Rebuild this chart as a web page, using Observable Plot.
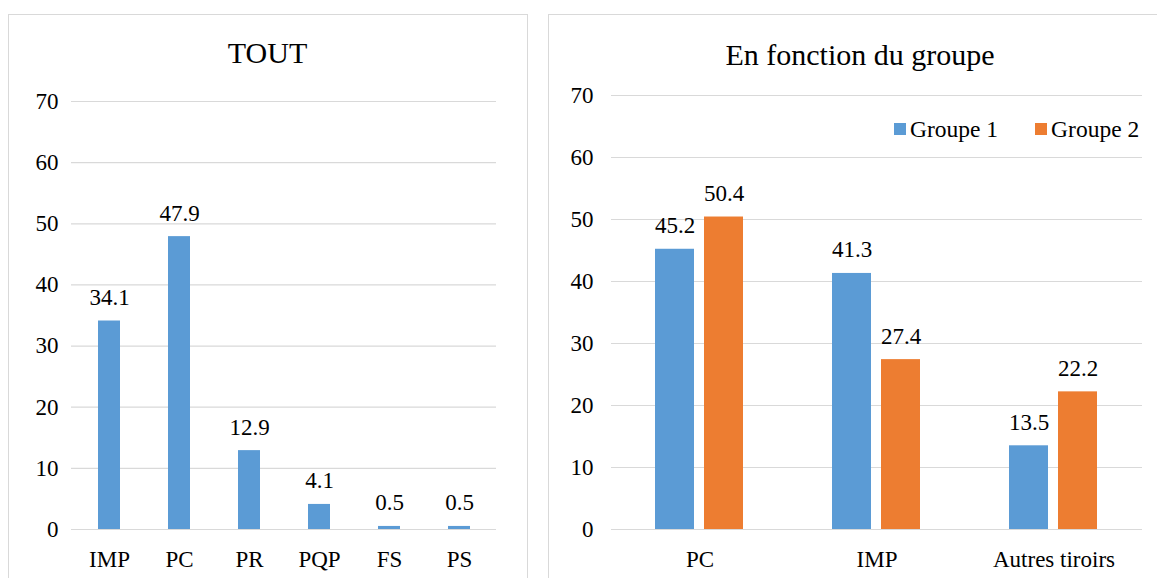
<!DOCTYPE html>
<html>
<head>
<meta charset="utf-8">
<script src="https://cdn.jsdelivr.net/npm/d3@7"></script>
<script src="https://cdn.jsdelivr.net/npm/@observablehq/plot@0.6"></script>
<style>
  html, body { margin: 0; padding: 0; background: #fff; }
  body { width: 1157px; height: 578px; position: relative; overflow: hidden; font-family: "Liberation Serif", "Times New Roman", serif; color: #000; }
  .panel { position: absolute; border: 1px solid #d9d9d9; box-sizing: border-box; }
  .title { position: absolute; font-size: 30px; line-height: 30px; white-space: nowrap; text-align: center; }
  .chart { position: absolute; }
  .chart svg, .chart svg g, .chart svg text { font-family: "Liberation Serif", "Times New Roman", serif !important; font-size: 23px !important; font-variant: normal !important; }
  .legend { position: absolute; font-size: 23.5px; line-height: 23px; white-space: nowrap; }
  .legend .item { display: inline-block; }
  .legend .sw { display: inline-block; width: 12px; height: 12px; vertical-align: 2px; margin-right: 4px; }
</style>
</head>
<body>
<div class="panel" style="left:8px; top:14px; width:520px; height:600px;"></div>
<div class="panel" style="left:548px; top:14px; width:640px; height:600px;"></div>
<div class="title" id="t1" style="left:8px; width:519px; top:38px;"></div>
<div class="title" id="t2" style="left:548px; width:624px; top:40px;"></div>
<div class="chart" id="c1" style="left:8px; top:14px;"></div>
<div class="chart" id="c2" style="left:548px; top:14px;"></div>
<div class="legend" id="lg" style="left:894px; top:118px;"></div>
<script>
// ---- data ----
const title1 = "TOUT";
const title2 = "En fonction du groupe";
const catsAll = ["IMP", "PC", "PR", "PQP", "FS", "PS"];
const valuesAll = [34.1, 47.9, 12.9, 4.1, 0.5, 0.5];
const catsGroup = ["PC", "IMP", "Autres tiroirs"];
const groups = ["Groupe 1", "Groupe 2"];
const group1 = [45.2, 41.3, 13.5];
const group2 = [50.4, 27.4, 22.2];
const yTicks = [0, 10, 20, 30, 40, 50, 60, 70];
const colors = ["#5b9bd5", "#ed7d31"];

const fmt = d => d.value.toFixed(1);
const font = {fontFamily: "'Liberation Serif', 'Times New Roman', serif", fontSize: "23px", color: "#000", background: "transparent"};

document.getElementById("t1").textContent = title1;
document.getElementById("t2").textContent = title2;

// ---- left chart ----
const dataAll = catsAll.map((c, i) => ({cat: c, value: valuesAll[i]}));
const p1 = Plot.plot({
  width: 519, height: 564,
  marginLeft: 63, marginRight: 31, marginTop: 87, marginBottom: 49,
  style: font,
  x: {domain: catsAll, paddingInner: 0.69, paddingOuter: 0.345, label: null, tickSize: 0, tickPadding: 21},
  y: {domain: [0, 70], ticks: yTicks, label: null, tickSize: 0, tickPadding: 13},
  marks: [
    Plot.ruleY(yTicks, {stroke: "#d9d9d9", strokeWidth: 1.2}),
    Plot.barY(dataAll, {x: "cat", y: "value", fill: colors[0]}),
    Plot.text(dataAll, {x: "cat", y: "value", text: fmt, dy: -16, lineAnchor: "bottom", fill: "#000"})
  ]
});
document.getElementById("c1").appendChild(p1);

// ---- right chart ----
const dataGrp = [];
catsGroup.forEach((c, i) => {
  dataGrp.push({cat: c, group: groups[0], value: group1[i]});
  dataGrp.push({cat: c, group: groups[1], value: group2[i]});
});
const p2 = Plot.plot({
  width: 609, height: 564,
  marginLeft: 62, marginRight: 15, marginTop: 81, marginBottom: 49,
  style: font,
  fx: {domain: catsGroup, padding: 0, label: null, tickSize: 0, tickPadding: 21, axis: "bottom"},
  x: {domain: groups, paddingInner: 0.2, paddingOuter: 0.873, axis: null},
  y: {domain: [0, 70], ticks: yTicks, label: null, tickSize: 0, tickPadding: 18},
  color: {domain: groups, range: colors},
  marks: [
    Plot.ruleY(yTicks, {stroke: "#d9d9d9", strokeWidth: 1.2}),
    Plot.barY(dataGrp, {fx: "cat", x: "group", y: "value", fill: "group"}),
    Plot.text(dataGrp, {fx: "cat", x: "group", y: "value", text: fmt, dy: -16, lineAnchor: "bottom", fill: "#000"})
  ]
});
document.getElementById("c2").appendChild(p2);

// ---- legend ----
const lg = document.getElementById("lg");
groups.forEach((g, i) => {
  const item = document.createElement("span");
  item.className = "item";
  if (i > 0) item.style.marginLeft = "37px";
  const sw = document.createElement("span");
  sw.className = "sw";
  sw.style.background = colors[i];
  item.appendChild(sw);
  item.appendChild(document.createTextNode(g));
  lg.appendChild(item);
});
</script>
</body>
</html>
